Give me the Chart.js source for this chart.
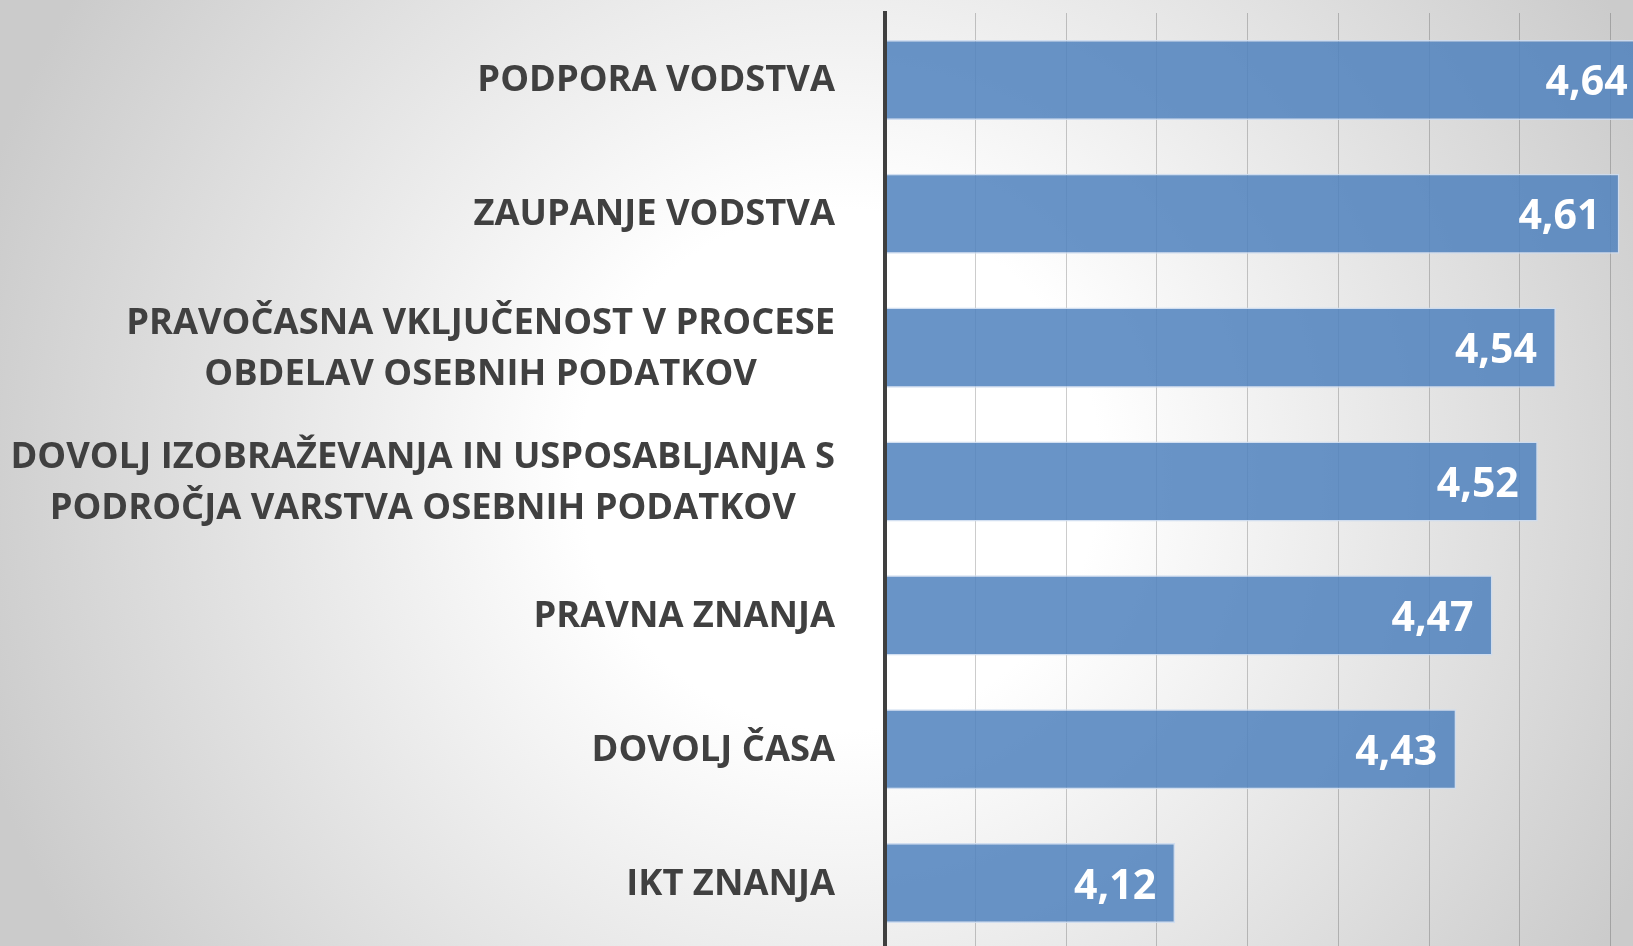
<!DOCTYPE html>
<html><head><meta charset="utf-8">
<script src="https://cdn.jsdelivr.net/npm/chart.js@4.4.1/dist/chart.umd.min.js"></script>
<style>
html,body{margin:0;padding:0;width:1633px;height:946px;overflow:hidden;}
body{background: radial-gradient(circle 900px at 840px 470px, #ffffff 0px, #ffffff 260px, #cbcbcb 900px);}
#c{position:absolute;left:0;top:0;}
</style></head><body>
<canvas id="c" width="1701" height="950"></canvas>
<script>
const categories = [
  ["PODPORA VODSTVA"],
  ["ZAUPANJE VODSTVA"],
  ["PRAVOČASNA VKLJUČENOST V PROCESE", "OBDELAV OSEBNIH PODATKOV"],
  ["DOVOLJ IZOBRAŽEVANJA IN USPOSABLJANJA S", "PODROČJA VARSTVA OSEBNIH PODATKOV"],
  ["PRAVNA ZNANJA"],
  ["DOVOLJ ČASA"],
  ["IKT ZNANJA"]
];
const values = [4.64, 4.61, 4.54, 4.52, 4.47, 4.43, 4.12];
const valueLabels = ["4,64", "4,61", "4,54", "4,52", "4,47", "4,43", "4,12"];
const axisMin = 3.8, axisMax = 4.7, axisStep = 0.1;

const LABEL_FONT = '700 36.3px "Open Sans"';
const VALUE_FONT = '700 41px "Open Sans"';

const yLabels = {
  id: 'yLabels',
  afterDraw(chart) {
    const ctx = chart.ctx, ys = chart.scales.y;
    ctx.save();
    ctx.font = LABEL_FONT;
    ctx.fillStyle = '#404040';
    ctx.textAlign = 'center';
    ctx.textBaseline = 'alphabetic';
    const right = chart.chartArea.left - 50;
    const lh = 51;
    categories.forEach((lines, i) => {
      const cy = ys.getPixelForValue(i);
      const w = Math.max(...lines.map(l => ctx.measureText(l).width));
      const cx = right - w / 2;
      lines.forEach((l, j) => {
        ctx.fillText(l, cx, cy + 11.5 + (j - (lines.length - 1) / 2) * lh);
      });
    });
    ctx.restore();
  }
};

const valueLabelPlugin = {
  id: 'valueLabels',
  afterDatasetsDraw(chart) {
    const ctx = chart.ctx;
    const meta = chart.getDatasetMeta(0);
    ctx.save();
    ctx.font = VALUE_FONT;
    ctx.fillStyle = '#ffffff';
    ctx.textAlign = 'right';
    ctx.textBaseline = 'alphabetic';
    meta.data.forEach((bar, i) => {
      ctx.fillText(valueLabels[i], bar.x - 19, bar.y + 15.5);
    });
    ctx.restore();
  }
};

new Chart(document.getElementById('c'), {
  type: 'bar',
  data: {
    labels: categories,
    datasets: [{
      data: values,
      backgroundColor: 'rgba(79,129,189,0.85)',
      borderColor: 'rgba(205,220,240,0.9)',
      borderWidth: 1.5,
      borderSkipped: 'left',
      barPercentage: 1,
      categoryPercentage: 0.598
    }]
  },
  options: {
    indexAxis: 'y',
    responsive: false,
    animation: false,
    layout: { padding: { top: 13, left: 0, right: 0, bottom: 0 } },
    plugins: { legend: { display: false }, tooltip: { enabled: false } },
    scales: {
      x: {
        type: 'linear',
        min: axisMin, max: axisMax,
        ticks: { display: false, stepSize: axisStep },
        grid: { color: 'rgba(0,0,0,0.2)', lineWidth: 1, drawTicks: false },
        border: { display: false },
        afterFit(s) { s.height = 0; }
      },
      y: {
        z: 1,
        ticks: { display: false },
        grid: { display: false, drawTicks: false },
        border: { display: true, color: '#3f3f3f', width: 4, z: 1 },
        afterFit(s) { s.width = 885; }
      }
    }
  },
  plugins: [yLabels, valueLabelPlugin]
});
</script>
</body></html>
